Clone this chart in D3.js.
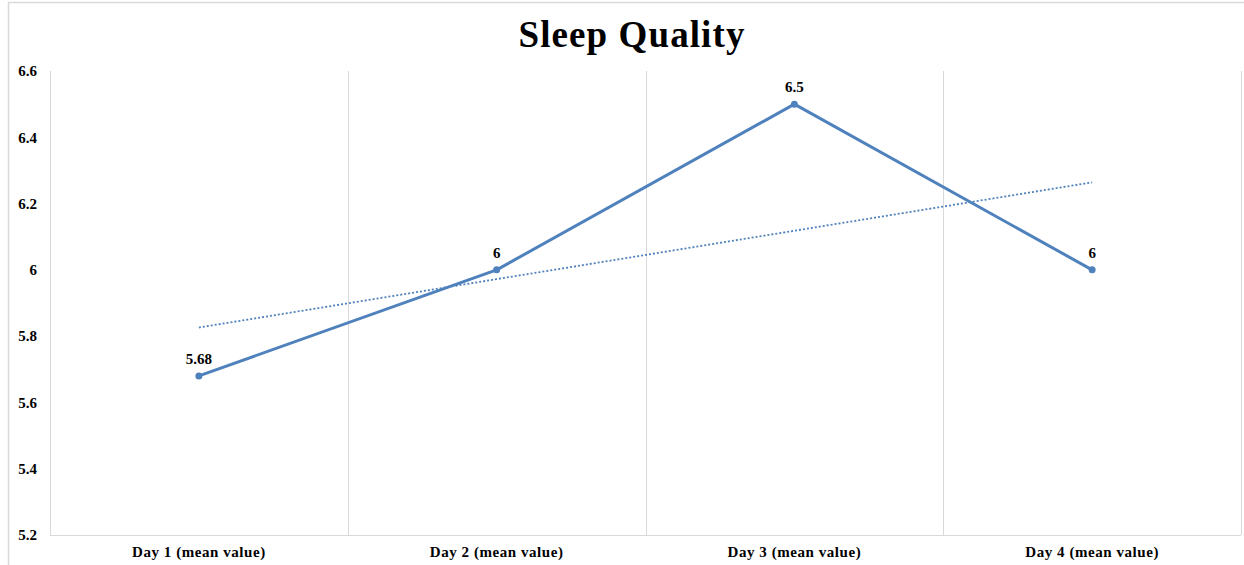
<!DOCTYPE html>
<html>
<head>
<meta charset="utf-8">
<script src="https://cdn.jsdelivr.net/npm/d3@7"></script>
<style>
  html, body { margin: 0; padding: 0; background: #fff; }
  svg { display: block; }
  text { font-family: "Liberation Serif", "Times New Roman", serif; font-weight: bold; fill: #000; }
</style>
</head>
<body>
<svg id="chart" width="1244" height="565"></svg>
<script>
// Mean sleep quality score per day
const categories = ["Day 1 (mean value)", "Day 2 (mean value)", "Day 3 (mean value)", "Day 4 (mean value)"];
const values = [5.68, 6, 6.5, 6];
const labels = ["5.68", "6", "6.5", "6"];
const yTicks = [5.2, 5.4, 5.6, 5.8, 6, 6.2, 6.4, 6.6];
const title = "Sleep Quality";

const W = 1244, H = 565;
const margin = { left: 50, right: 3, top: 71, bottom: 30 };
const svg = d3.select("#chart");

// outer chart frame (top and left edges visible)
svg.append("line").attr("x1", 8).attr("x2", W).attr("y1", 2.5).attr("y2", 2.5)
  .attr("stroke", "#d9d9d9").attr("stroke-width", 1.5);
svg.append("line").attr("x1", 8.5).attr("x2", 8.5).attr("y1", 2).attr("y2", H)
  .attr("stroke", "#d9d9d9").attr("stroke-width", 1.5);

const x = d3.scaleBand().domain(categories).range([margin.left, W - margin.right]).padding(0);
const y = d3.scaleLinear().domain([5.2, 6.6]).range([H - margin.bottom, margin.top]);

// vertical gridlines at category boundaries
const bounds = categories.map(c => x(c)).concat([x(categories[categories.length - 1]) + x.bandwidth()]);
svg.append("g").selectAll("line").data(bounds).join("line")
  .attr("x1", d => Math.round(d) + 0.5).attr("x2", d => Math.round(d) + 0.5)
  .attr("y1", y(6.6)).attr("y2", y(5.2))
  .attr("stroke", "#d9d9d9").attr("stroke-width", 1);

// category axis line
svg.append("line")
  .attr("x1", margin.left).attr("x2", W - margin.right)
  .attr("y1", y(5.2) + 0.5).attr("y2", y(5.2) + 0.5)
  .attr("stroke", "#d9d9d9").attr("stroke-width", 1);

// y axis labels
const yAxis = d3.axisLeft(y).tickValues(yTicks).tickSize(0).tickPadding(0)
  .tickFormat(d => d3.format("")(+d.toFixed(1)));
const yg = svg.append("g").attr("transform", `translate(37,0)`).call(yAxis);
yg.select(".domain").remove();
yg.selectAll("text").attr("font-size", 15).attr("font-family", "Liberation Serif").attr("font-weight", "bold").attr("fill", "#000");

// x axis labels
const xAxis = d3.axisBottom(x).tickSize(0).tickPadding(0);
const xg = svg.append("g").attr("transform", `translate(0,${y(5.2)})`).call(xAxis);
xg.select(".domain").remove();
xg.selectAll("text").attr("font-size", 15).attr("font-family", "Liberation Serif")
  .attr("font-weight", "bold").attr("fill", "#000").attr("dy", "1.45em")
  .attr("letter-spacing", 0.55);

const cx = c => x(c) + x.bandwidth() / 2;
const blue = "#4f81bd";

// linear trendline (least squares over day index)
const n = values.length;
const xs = values.map((_, i) => i + 1);
const mx = d3.mean(xs), my = d3.mean(values);
const slope = d3.sum(xs.map((xi, i) => (xi - mx) * (values[i] - my))) / d3.sum(xs.map(xi => (xi - mx) ** 2));
const intercept = my - slope * mx;
svg.append("line")
  .attr("x1", cx(categories[0])).attr("y1", y(intercept + slope * 1))
  .attr("x2", cx(categories[n - 1])).attr("y2", y(intercept + slope * n))
  .attr("stroke", blue).attr("stroke-width", 1.8).attr("stroke-dasharray", "2,2");

// data line
const line = d3.line().x((d, i) => cx(categories[i])).y(d => y(d));
svg.append("path").datum(values).attr("d", line)
  .attr("fill", "none").attr("stroke", blue).attr("stroke-width", 3).attr("stroke-linejoin", "round");

// markers
svg.append("g").selectAll("circle").data(values).join("circle")
  .attr("cx", (d, i) => cx(categories[i])).attr("cy", d => y(d)).attr("r", 3.5)
  .attr("fill", blue);

// data labels
svg.append("g").selectAll("text").data(values).join("text")
  .attr("x", (d, i) => cx(categories[i])).attr("y", d => y(d) - 12)
  .attr("text-anchor", "middle").attr("font-size", 15)
  .text((d, i) => labels[i]);

// title
svg.append("text").attr("x", 632).attr("y", 47)
  .attr("text-anchor", "middle").attr("font-size", 37).attr("letter-spacing", 1.1)
  .text(title);
</script>
</body>
</html>
